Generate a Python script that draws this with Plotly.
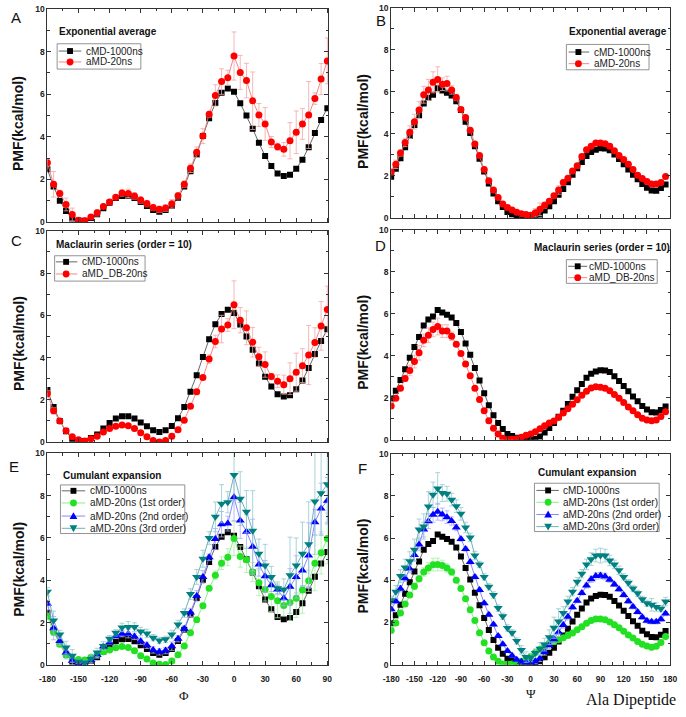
import plotly.graph_objects as go

W, H = 686, 717

# ---------------- data ----------------
phi_deg = [-180, -174, -168, -162, -156, -150, -144, -138, -132, -126,
           -120, -114, -108, -102, -96, -90, -84, -78, -72, -66,
           -60, -54, -48, -42, -36, -30, -24, -18, -12, -6,
           0, 6, 12, 18, 24, 30, 36, 42, 48, 54,
           60, 66, 72, 78, 84, 90]
psi_deg = [-180, -174, -168, -162, -156, -150, -144, -138, -132, -126,
           -120, -114, -108, -102, -96, -90, -84, -78, -72, -66,
           -60, -54, -48, -42, -36, -30, -24, -18, -12, -6,
           0, 6, 12, 18, 24, 30, 36, 42, 48, 54,
           60, 66, 72, 78, 84, 90, 96, 102, 108, 114,
           120, 126, 132, 138, 144, 150, 156, 162, 168, 174]

cmd_phi = [2.47, 1.66, 1.0, 0.51, 0.16, 0.07, 0.05, 0.19, 0.36, 0.64,
           0.9, 1.12, 1.22, 1.23, 1.12, 0.93, 0.75, 0.56, 0.48, 0.56,
           0.76, 1.13, 1.66, 2.38, 3.17, 4.03, 4.87, 5.58, 6.06, 6.27,
           6.11, 5.57, 5.0, 4.37, 3.72, 3.09, 2.63, 2.27, 2.16, 2.22,
           2.5, 2.92, 3.51, 4.17, 4.79, 5.34]
cmd_psi = [1.96, 2.34, 2.84, 3.36, 3.9, 4.42, 4.89, 5.44, 5.72, 5.86,
           6.17, 6.06, 5.95, 5.82, 5.55, 5.13, 4.58, 4.04, 3.41, 2.82,
           2.21, 1.64, 1.17, 0.8, 0.52, 0.28, 0.18, 0.1, 0.05, 0.02,
           0.02, 0.05, 0.16, 0.35, 0.56, 0.8, 1.1, 1.38, 1.7, 2.05,
           2.36, 2.66, 2.95, 3.14, 3.25, 3.31, 3.3, 3.22, 3.02, 2.8,
           2.56, 2.31, 2.06, 1.84, 1.61, 1.44, 1.31, 1.3, 1.42, 1.59]

amd_phi = [2.78, 1.77, 1.34, 0.82, 0.35, 0.08, 0.05, 0.23, 0.43, 0.73,
           0.93, 1.16, 1.36, 1.34, 1.22, 1.03, 0.86, 0.68, 0.59, 0.65,
           0.85, 1.23, 1.77, 2.52, 3.27, 4.03, 5.05, 5.94, 6.59, 6.77,
           7.79, 7.02, 6.64, 5.69, 5.02, 4.6, 3.75, 3.53, 3.41, 3.81,
           4.21, 4.6, 5.02, 5.79, 6.71, 7.56]
amd_phi_err = [0.15, 0.6, 0.15, 0.3, 0.3, 0.05, 0.05, 0.1, 0.15, 0.1,
               0.1, 0.1, 0.15, 0.2, 0.15, 0.15, 0.15, 0.15, 0.15, 0.15,
               0.2, 0.15, 0.15, 0.2, 0.25, 0.35, 0.15, 0.5, 0.6, 0.35,
               1.13, 0.8, 0.81, 1.35, 0.54, 0.77, 0.26, 0.17, 0.32, 0.85,
               1.0, 0.72, 1.57, 0.27, 0.73, 1.08]

amd_psi = [2.19, 2.55, 3.09, 3.59, 4.08, 4.58, 5.13, 5.86, 6.09, 6.45,
           6.59, 6.36, 6.39, 6.09, 5.73, 5.16, 4.78, 4.17, 3.52, 2.97,
           2.31, 1.77, 1.33, 0.97, 0.67, 0.5, 0.38, 0.27, 0.2, 0.16,
           0.13, 0.25, 0.41, 0.61, 0.8, 1.06, 1.33, 1.69, 1.89, 2.23,
           2.48, 2.92, 3.25, 3.41, 3.56, 3.56, 3.53, 3.41, 3.2, 2.97,
           2.78, 2.55, 2.31, 2.03, 1.88, 1.73, 1.61, 1.61, 1.69, 1.97]
amd_psi_err = [0.1, 0.2, 0.15, 0.2, 0.3, 0.35, 0.4, 0.4, 0.5, 0.5,
               0.6, 0.3, 0.35, 0.2, 0.15, 0.1, 0.1, 0.1, 0.1, 0.1,
               0.1, 0.08, 0.08, 0.08, 0.08, 0.08, 0.08, 0.08, 0.08, 0.08,
               0.08, 0.2, 0.3, 0.15, 0.1, 0.1, 0.2, 0.15, 0.1, 0.1,
               0.1, 0.1, 0.1, 0.1, 0.1, 0.1, 0.1, 0.1, 0.1, 0.1,
               0.1, 0.1, 0.1, 0.1, 0.1, 0.1, 0.1, 0.1, 0.1, 0.1]

amd_db_phi = [2.29, 1.48, 1.0, 0.54, 0.26, 0.11, 0.05, 0.16, 0.28, 0.48,
              0.64, 0.75, 0.81, 0.78, 0.64, 0.44, 0.26, 0.08, 0.0, 0.08,
              0.28, 0.58, 1.04, 1.70, 2.38, 3.06, 3.93, 4.76, 5.35, 5.54,
              6.5, 5.77, 5.41, 4.73, 4.04, 3.67, 3.1, 2.88, 2.72, 3.0,
              3.31, 3.62, 4.12, 4.71, 5.5, 6.28]
amd_db_phi_err = [0.15, 0.15, 0.08, 0.08, 0.05, 0.05, 0.05, 0.05, 0.05, 0.05,
                  0.05, 0.05, 0.05, 0.05, 0.05, 0.05, 0.05, 0.05, 0.05, 0.05,
                  0.05, 0.05, 0.08, 0.08, 0.1, 0.1, 0.2, 0.3, 0.65, 0.3,
                  1.13, 0.6, 0.8, 0.7, 0.45, 0.6, 0.15, 0.3, 0.45, 0.75,
                  0.9, 0.8, 1.4, 0.7, 1.15, 1.1]

amd_db_psi = [1.61, 1.98, 2.45, 2.92, 3.3, 3.72, 4.14, 4.73, 4.97, 5.25,
              5.39, 5.17, 5.17, 4.92, 4.55, 4.11, 3.61, 3.05, 2.45, 1.92,
              1.38, 0.91, 0.55, 0.28, 0.08, 0.02, 0.03, 0.05, 0.12, 0.22,
              0.28, 0.39, 0.53, 0.67, 0.8, 0.9, 1.06, 1.28, 1.48, 1.69,
              1.91, 2.12, 2.31, 2.47, 2.52, 2.5, 2.45, 2.34, 2.16, 1.98,
              1.78, 1.56, 1.38, 1.19, 1.03, 0.94, 0.91, 0.94, 1.11, 1.34]
amd_db_psi_err = [0.08, 0.08, 0.1, 0.15, 0.25, 0.3, 0.35, 0.3, 0.35, 0.35,
                  0.4, 0.3, 0.3, 0.2, 0.1, 0.08, 0.06, 0.05, 0.05, 0.05,
                  0.05, 0.05, 0.05, 0.05, 0.05, 0.05, 0.05, 0.05, 0.05, 0.05,
                  0.05, 0.05, 0.05, 0.05, 0.05, 0.05, 0.05, 0.05, 0.05, 0.05,
                  0.05, 0.05, 0.05, 0.05, 0.05, 0.05, 0.05, 0.05, 0.05, 0.05,
                  0.05, 0.05, 0.05, 0.05, 0.05, 0.05, 0.05, 0.05, 0.05, 0.05]

cum1_phi = [2.3, 1.55, 0.98, 0.47, 0.26, 0.26, 0.23, 0.36, 0.5, 0.62,
            0.71, 0.81, 0.87, 0.82, 0.67, 0.43, 0.28, 0.09, 0.03, 0.02,
            0.19, 0.48, 0.9, 1.52, 2.14, 2.8, 3.62, 4.24, 4.81, 5.09,
            5.98, 5.12, 4.97, 4.39, 3.88, 3.57, 3.23, 3.03, 2.81, 2.95,
            3.15, 3.54, 3.98, 4.81, 5.3, 5.98]
cum1_phi_err = [0.15, 0.15, 0.08, 0.08, 0.08, 0.08, 0.08, 0.08, 0.08, 0.08,
                0.08, 0.08, 0.08, 0.08, 0.08, 0.08, 0.08, 0.08, 0.08, 0.08,
                0.08, 0.08, 0.08, 0.08, 0.1, 0.1, 0.1, 0.2, 0.3, 0.4,
                0.8, 0.5, 0.6, 0.45, 0.6, 0.55, 0.7, 0.8, 0.5, 0.85,
                0.9, 1.1, 0.5, 1.3, 1.0, 1.2]
cum2_phi = [2.89, 1.74, 1.13, 0.59, 0.2, 0.05, 0.05, 0.23, 0.47, 0.87,
            1.06, 1.37, 1.48, 1.48, 1.35, 1.12, 0.93, 0.71, 0.62, 0.68,
            0.89, 1.24, 1.71, 2.48, 3.26, 4.16, 5.09, 5.95, 6.65, 6.68,
            7.92, 6.83, 6.3, 5.59, 4.75, 4.19, 3.77, 3.57, 3.15, 3.7,
            4.16, 4.47, 5.17, 6.75, 7.39, 7.76]
cum2_phi_err = [0.15, 0.55, 0.2, 0.3, 0.3, 0.08, 0.08, 0.1, 0.15, 0.1,
                0.1, 0.12, 0.15, 0.2, 0.15, 0.15, 0.15, 0.15, 0.15, 0.15,
                0.2, 0.15, 0.15, 0.2, 0.25, 0.3, 0.15, 0.5, 0.6, 0.35,
                1.1, 0.85, 0.8, 1.3, 0.55, 0.75, 0.3, 0.2, 0.35, 0.85,
                1.0, 0.75, 1.55, 0.6, 1.2, 1.1]
cum3_phi = [3.46, 2.1, 1.44, 0.82, 0.43, 0.16, 0.12, 0.28, 0.59, 0.9,
            1.24, 1.52, 1.77, 1.8, 1.79, 1.58, 1.49, 1.29, 1.16, 1.21,
            1.44, 1.91, 2.45, 3.35, 4.16, 5.02, 6.0, 7.0, 7.62, 7.69,
            8.98, 7.86, 7.24, 6.34, 5.25, 4.7, 4.16, 3.62, 3.57, 4.24,
            4.7, 5.25, 5.71, 7.73, 8.12, 8.54]
cum3_phi_err = [0.2, 0.45, 0.2, 0.3, 0.3, 0.1, 0.1, 0.2, 0.2, 0.2,
                0.15, 0.15, 0.2, 0.25, 0.2, 0.2, 0.2, 0.15, 0.15, 0.15,
                0.2, 0.2, 0.2, 0.25, 0.35, 0.4, 0.3, 0.7, 0.9, 0.5,
                1.2, 1.27, 1.0, 1.9, 0.7, 1.0, 0.5, 0.3, 0.5, 1.8,
                1.3, 1.5, 2.0, 2.5, 2.0, 1.8]

cum1_psi = [1.62, 1.98, 2.45, 2.87, 3.3, 3.72, 4.07, 4.39, 4.58, 4.74,
            4.75, 4.7, 4.58, 4.39, 4.0, 3.61, 3.12, 2.6, 2.09, 1.51,
            1.04, 0.65, 0.36, 0.16, 0.03, 0.02, 0.03, 0.08, 0.16, 0.26,
            0.39, 0.58, 0.73, 0.88, 1.0, 1.1, 1.18, 1.27, 1.38, 1.5,
            1.65, 1.8, 1.96, 2.09, 2.17, 2.17, 2.13, 2.02, 1.89, 1.75,
            1.58, 1.41, 1.26, 1.1, 0.97, 0.88, 0.82, 0.87, 1.05, 1.34]
cum1_psi_err = [0.05, 0.05, 0.05, 0.08, 0.1, 0.15, 0.15, 0.2, 0.25, 0.3,
                0.3, 0.25, 0.2, 0.15, 0.1, 0.08, 0.05, 0.05, 0.05, 0.05,
                0.05, 0.05, 0.05, 0.05, 0.05, 0.05, 0.05, 0.05, 0.05, 0.05,
                0.05, 0.05, 0.05, 0.05, 0.05, 0.05, 0.05, 0.05, 0.05, 0.05,
                0.05, 0.05, 0.05, 0.05, 0.05, 0.05, 0.05, 0.05, 0.05, 0.05,
                0.05, 0.05, 0.05, 0.05, 0.05, 0.05, 0.05, 0.05, 0.05, 0.05]
cum2_psi = [2.63, 3.0, 3.6, 4.1, 4.55, 5.2, 5.7, 6.4, 6.8, 7.1,
            7.25, 7.12, 6.99, 6.81, 6.5, 5.95, 5.48, 4.86, 4.16, 3.54,
            2.91, 2.37, 1.9, 1.36, 0.97, 0.65, 0.42, 0.23, 0.14, 0.1,
            0.1, 0.16, 0.3, 0.6, 0.92, 1.2, 1.54, 1.88, 2.27, 2.72,
            3.03, 3.4, 3.75, 4.05, 4.2, 4.22, 4.18, 4.02, 3.8, 3.57,
            3.3, 3.0, 2.74, 2.5, 2.25, 2.08, 2.03, 2.03, 2.15, 2.42]
cum2_psi_err = [0.1, 0.1, 0.15, 0.15, 0.2, 0.3, 0.3, 0.35, 0.35, 0.35,
                0.4, 0.3, 0.3, 0.2, 0.15, 0.1, 0.1, 0.1, 0.1, 0.1,
                0.08, 0.08, 0.08, 0.08, 0.08, 0.08, 0.08, 0.08, 0.08, 0.08,
                0.08, 0.1, 0.15, 0.15, 0.15, 0.2, 0.2, 0.15, 0.15, 0.1,
                0.1, 0.1, 0.12, 0.15, 0.15, 0.15, 0.15, 0.12, 0.1, 0.1,
                0.1, 0.1, 0.1, 0.1, 0.1, 0.1, 0.1, 0.1, 0.1, 0.1]
cum3_psi = [3.05, 3.45, 4.2, 4.6, 4.9, 5.45, 6.4, 6.55, 7.5, 8.05,
            8.35, 8.13, 8.1, 7.82, 7.51, 7.15, 6.5, 6.03, 5.17, 4.75,
            4.16, 3.69, 3.3, 2.68, 2.29, 1.74, 1.51, 1.12, 0.7, 0.36,
            0.34, 0.55, 0.75, 0.95, 1.3, 1.75, 2.05, 2.45, 2.99, 3.46,
            3.93, 4.31, 4.75, 5.0, 5.17, 5.17, 5.17, 4.94, 4.75, 4.47,
            4.16, 3.88, 3.61, 3.38, 3.1, 2.91, 2.84, 2.73, 2.65, 2.99]
cum3_psi_err = [0.2, 0.3, 0.3, 0.4, 0.45, 0.5, 0.5, 0.6, 0.7, 0.6,
                0.75, 0.4, 0.35, 0.3, 0.3, 0.3, 0.25, 0.2, 0.2, 0.15,
                0.15, 0.15, 0.15, 0.15, 0.15, 0.15, 0.15, 0.15, 0.2, 0.25,
                0.2, 0.2, 0.3, 0.3, 0.35, 0.5, 0.6, 0.3, 0.25, 0.2,
                0.2, 0.2, 0.25, 0.3, 0.3, 0.35, 0.3, 0.25, 0.2, 0.2,
                0.15, 0.15, 0.15, 0.15, 0.15, 0.15, 0.3, 0.2, 0.15, 0.2]

phi_tick_vals = [-180, -150, -120, -90, -60, -30, 0, 30, 60, 90]
phi_tick_text = ["-180", "-150", "-120", "-90", "-60", "-30", "0", "30", "60", "90"]
psi_tick_vals = [-180, -150, -120, -90, -60, -30, 0, 30, 60, 90, 120, 150, 180]
psi_tick_text = ["-180", "-150", "-120", "-90", "-60", "-30", "0", "30", "60", "90", "120", "150", "180"]
y_tick_vals = [0, 2, 4, 6, 8, 10]
y_tick_text = ["0", "2", "4", "6", "8", "10"]

# ---------------- styles ----------------
SANS = "Liberation Sans, Arial, sans-serif"
SERIF = "Liberation Serif, Times New Roman, serif"

STY = {
    "cmd": dict(symbol="square", size=6, color="#000000", line="#555555", err="#888888"),
    "amd": dict(symbol="circle", size=7, color="#ff0000", line="#f27a7a", err="#f4a6a6"),
    "c1": dict(symbol="circle", size=7, color="#22e022", line="#77ee77", err="#a6f0a6"),
    "c2": dict(symbol="triangle-up", size=8, color="#0000ff", line="#7a7aff", err="#a8a8ff"),
    "c3": dict(symbol="triangle-down", size=8, color="#008080", line="#5fa8b0", err="#93c9d0"),
}


def fx(x):
    return x / W


def fy(y):
    return 1 - y / H


panels = [
    dict(letter="A", letter_xy=(7, 12.5), xs=phi_deg, xr=[-180, 91], tv=phi_tick_vals, tt=phi_tick_text,
         dom_x=(39.3, 327), dom_y=(4, 220), showx=False, ytitle_xy=(10, 120),
         title="Exponential average", title_xy=(49, 27),
         series=[("cmd", "cMD-1000ns", cmd_phi, None), ("amd", "aMD-20ns", amd_phi, amd_phi_err)],
         leg=dict(box=(49.3, 39.3, 135, 65), rows=(46.7, 57.8), line=(51, 74), mx=62.5, tx=77)),
    dict(letter="B", letter_xy=(380.5, 15.5), xs=psi_deg, xr=[-180, 180], tv=psi_tick_vals, tt=psi_tick_text,
         dom_x=(391.3, 677), dom_y=(2.7, 216), showx=False, ytitle_xy=(363, 118),
         title="Exponential average", title_xy=(571, 27),
         series=[("cmd", "cMD-1000ns", cmd_psi, None), ("amd", "aMD-20ns", amd_psi, amd_psi_err)],
         leg=dict(box=(570.7, 40, 655.3, 65.7), rows=(47.7, 59.5), line=(573, 594), mx=583, tx=597)),
    dict(letter="C", letter_xy=(7.5, 239), xs=phi_deg, xr=[-180, 91], tv=phi_tick_vals, tt=phi_tick_text,
         dom_x=(39.3, 327), dom_y=(229, 443.3), showx=False, ytitle_xy=(10, 343),
         title="Maclaurin series (order = 10)", title_xy=(46, 243),
         series=[("cmd", "cMD-1000ns", cmd_phi, None), ("amd", "aMD_DB-20ns", amd_db_phi, amd_db_phi_err)],
         leg=dict(box=(46.7, 254.3, 139.3, 280), rows=(260.5, 272.8), line=(48, 70), mx=58.5, tx=72.5)),
    dict(letter="D", letter_xy=(380.5, 244), xs=psi_deg, xr=[-180, 180], tv=psi_tick_vals, tt=psi_tick_text,
         dom_x=(391.3, 677), dom_y=(227.7, 441), showx=False, ytitle_xy=(363, 342),
         title="Maclaurin series (order = 10)", title_xy=(535, 246),
         series=[("cmd", "cMD-1000ns", cmd_psi, None), ("amd", "aMD_DB-20ns", amd_db_psi, amd_db_psi_err)],
         leg=dict(box=(570.7, 258.3, 663.7, 282.3), rows=(265, 276.5), line=(572.5, 592), mx=582.3, tx=591.5)),
    dict(letter="E", letter_xy=(5, 468), xs=phi_deg, xr=[-180, 91], tv=phi_tick_vals, tt=phi_tick_text,
         dom_x=(39.3, 327), dom_y=(454.7, 669.3), showx=True, ytitle_xy=(10, 572),
         title="Cumulant expansion", title_xy=(53, 477),
         series=[("cmd", "cMD-1000ns", cmd_phi, None),
                 ("c1", "aMD-20ns (1st order)", cum1_phi, cum1_phi_err),
                 ("c2", "aMD-20ns (2nd order)", cum2_phi, cum2_phi_err),
                 ("c3", "aMD-20ns (3rd order)", cum3_phi, cum3_phi_err)],
         leg=dict(box=(52.7, 486.7, 180, 536), rows=(492.7, 505, 518.3, 530.7), line=(54, 78), mx=66, tx=81)),
    dict(letter="F", letter_xy=(361.5, 470), xs=psi_deg, xr=[-180, 180], tv=psi_tick_vals, tt=psi_tick_text,
         dom_x=(391.3, 677), dom_y=(455, 669), showx=True, ytitle_xy=(363, 569),
         title="Cumulant expansion", title_xy=(540, 474),
         series=[("cmd", "cMD-1000ns", cmd_psi, None),
                 ("c1", "aMD-20ns (1st order)", cum1_psi, cum1_psi_err),
                 ("c2", "aMD-20ns (2nd order)", cum2_psi, cum2_psi_err),
                 ("c3", "aMD-20ns (3rd order)", cum3_psi, cum3_psi_err)],
         leg=dict(box=(538, 485, 665.7, 534), rows=(492.3, 504.3, 516.7, 529), line=(540, 563), mx=552, tx=564.7)),
]

fig = go.Figure()
annotations = []
shapes = []
layout_axes = {}


def marker_shape(sym, cx, cy, color, size):
    h = size / 2.0
    if sym == "square":
        return dict(type="rect", xref="paper", yref="paper", x0=fx(cx - h), x1=fx(cx + h),
                    y0=fy(cy + h), y1=fy(cy - h), fillcolor=color, line=dict(width=0))
    if sym == "circle":
        return dict(type="circle", xref="paper", yref="paper", x0=fx(cx - h), x1=fx(cx + h),
                    y0=fy(cy + h), y1=fy(cy - h), fillcolor=color, line=dict(width=0))
    if sym == "triangle-up":
        p = (f"M {fx(cx)},{fy(cy - h)} L {fx(cx + h)},{fy(cy + h * 0.75)} "
             f"L {fx(cx - h)},{fy(cy + h * 0.75)} Z")
    else:
        p = (f"M {fx(cx)},{fy(cy + h)} L {fx(cx + h)},{fy(cy - h * 0.75)} "
             f"L {fx(cx - h)},{fy(cy - h * 0.75)} Z")
    return dict(type="path", xref="paper", yref="paper", path=p, fillcolor=color, line=dict(width=0))


for i, p in enumerate(panels, start=1):
    xa = "x" if i == 1 else f"x{i}"
    ya = "y" if i == 1 else f"y{i}"
    for key, name, ys, err in p["series"]:
        s = STY[key]
        kw = dict(x=p["xs"], y=ys, mode="lines+markers", name=name, showlegend=False,
                  xaxis=xa, yaxis=ya,
                  line=dict(color=s["line"], width=0.9),
                  marker=dict(symbol=s["symbol"], size=s["size"], color=s["color"], line=dict(width=0)))
        if err is not None:
            kw["error_y"] = dict(type="data", array=err, visible=True, color=s["err"],
                                 thickness=0.8, width=2.5)
        fig.add_trace(go.Scatter(**kw))

    axis_common = dict(showline=True, linecolor="#333333", linewidth=1, mirror="allticks",
                       ticks="inside", ticklen=4, tickwidth=1, tickcolor="#333333",
                       showgrid=False, zeroline=False,
                       tickfont=dict(family=SANS, size=8.5, color="#222222", weight="bold"))
    xkey = "xaxis" if i == 1 else f"xaxis{i}"
    ykey = "yaxis" if i == 1 else f"yaxis{i}"
    layout_axes[xkey] = dict(axis_common, domain=[fx(p["dom_x"][0]), fx(p["dom_x"][1])],
                             range=p["xr"], anchor=ya, tickmode="array",
                             tickvals=p["tv"], ticktext=p["tt"], showticklabels=p["showx"],
                             ticklabelstandoff=6,
                             minor=dict(tickmode="linear", tick0=-180, dtick=15, ticks="inside",
                                        ticklen=2.5, tickcolor="#333333"))
    layout_axes[ykey] = dict(axis_common, domain=[fy(p["dom_y"][1]), fy(p["dom_y"][0])],
                             range=[0, 10], anchor=xa, tickmode="array",
                             tickvals=y_tick_vals, ticktext=y_tick_text,
                             minor=dict(tickmode="linear", tick0=0, dtick=1, ticks="inside",
                                        ticklen=2.5, tickcolor="#333333"))

    # panel letter
    annotations.append(dict(text=p["letter"], x=fx(p["letter_xy"][0]), y=fy(p["letter_xy"][1]),
                            xref="paper", yref="paper", showarrow=False, xanchor="center",
                            yanchor="middle", font=dict(family=SANS, size=15, color="#111111")))
    # y axis title
    annotations.append(dict(text="PMF(kcal/mol)", x=fx(p["ytitle_xy"][0]), y=fy(p["ytitle_xy"][1]),
                            xref="paper", yref="paper", showarrow=False, textangle=-90,
                            xanchor="center", yanchor="middle",
                            font=dict(family=SANS, size=14, color="#111111", weight="bold")))
    # panel title
    annotations.append(dict(text=p["title"], x=fx(p["title_xy"][0]), y=fy(p["title_xy"][1]),
                            xref="paper", yref="paper", showarrow=False, xanchor="left",
                            yanchor="middle",
                            font=dict(family=SANS, size=10, color="#111111", weight="bold")))
    # legend box
    lg = p["leg"]
    bx0, by0, bx1, by1 = lg["box"]
    shapes.append(dict(type="rect", xref="paper", yref="paper", x0=fx(bx0), x1=fx(bx1),
                       y0=fy(by1), y1=fy(by0), line=dict(color="#777777", width=0.8),
                       fillcolor="rgba(255,255,255,0)"))
    for (key, name, ys, err), ry in zip(p["series"], lg["rows"]):
        s = STY[key]
        shapes.append(dict(type="line", xref="paper", yref="paper", x0=fx(lg["line"][0]),
                           x1=fx(lg["line"][1]), y0=fy(ry), y1=fy(ry),
                           line=dict(color=s["line"], width=0.9)))
        shapes.append(marker_shape(s["symbol"], lg["mx"], ry, s["color"], s["size"]))
        annotations.append(dict(text=name, x=fx(lg["tx"]), y=fy(ry), xref="paper", yref="paper",
                                showarrow=False, xanchor="left", yanchor="middle",
                                font=dict(family=SANS, size=10, color="#222222")))

# axis symbols and caption
annotations.append(dict(text="Φ", x=fx(179), y=fy(700), xref="paper", yref="paper", showarrow=False,
                        xanchor="center", yanchor="middle", font=dict(family=SERIF, size=13, color="#111111")))
annotations.append(dict(text="Ψ", x=fx(534), y=fy(698), xref="paper", yref="paper", showarrow=False,
                        xanchor="center", yanchor="middle", font=dict(family=SERIF, size=13, color="#111111")))
annotations.append(dict(text="Ala Dipeptide", x=fx(637), y=fy(705), xref="paper", yref="paper",
                        showarrow=False, xanchor="center", yanchor="middle",
                        font=dict(family=SERIF, size=16, color="#111111")))

fig.update_layout(width=W, height=H, autosize=False, margin=dict(l=0, r=0, t=0, b=0, pad=0),
                  paper_bgcolor="white", plot_bgcolor="white", showlegend=False,
                  annotations=annotations, shapes=shapes, **layout_axes)

fig.write_html("out.html", config={"displayModeBar": False},
               post_script="document.body.style.margin='0';document.body.style.overflow='hidden';")
